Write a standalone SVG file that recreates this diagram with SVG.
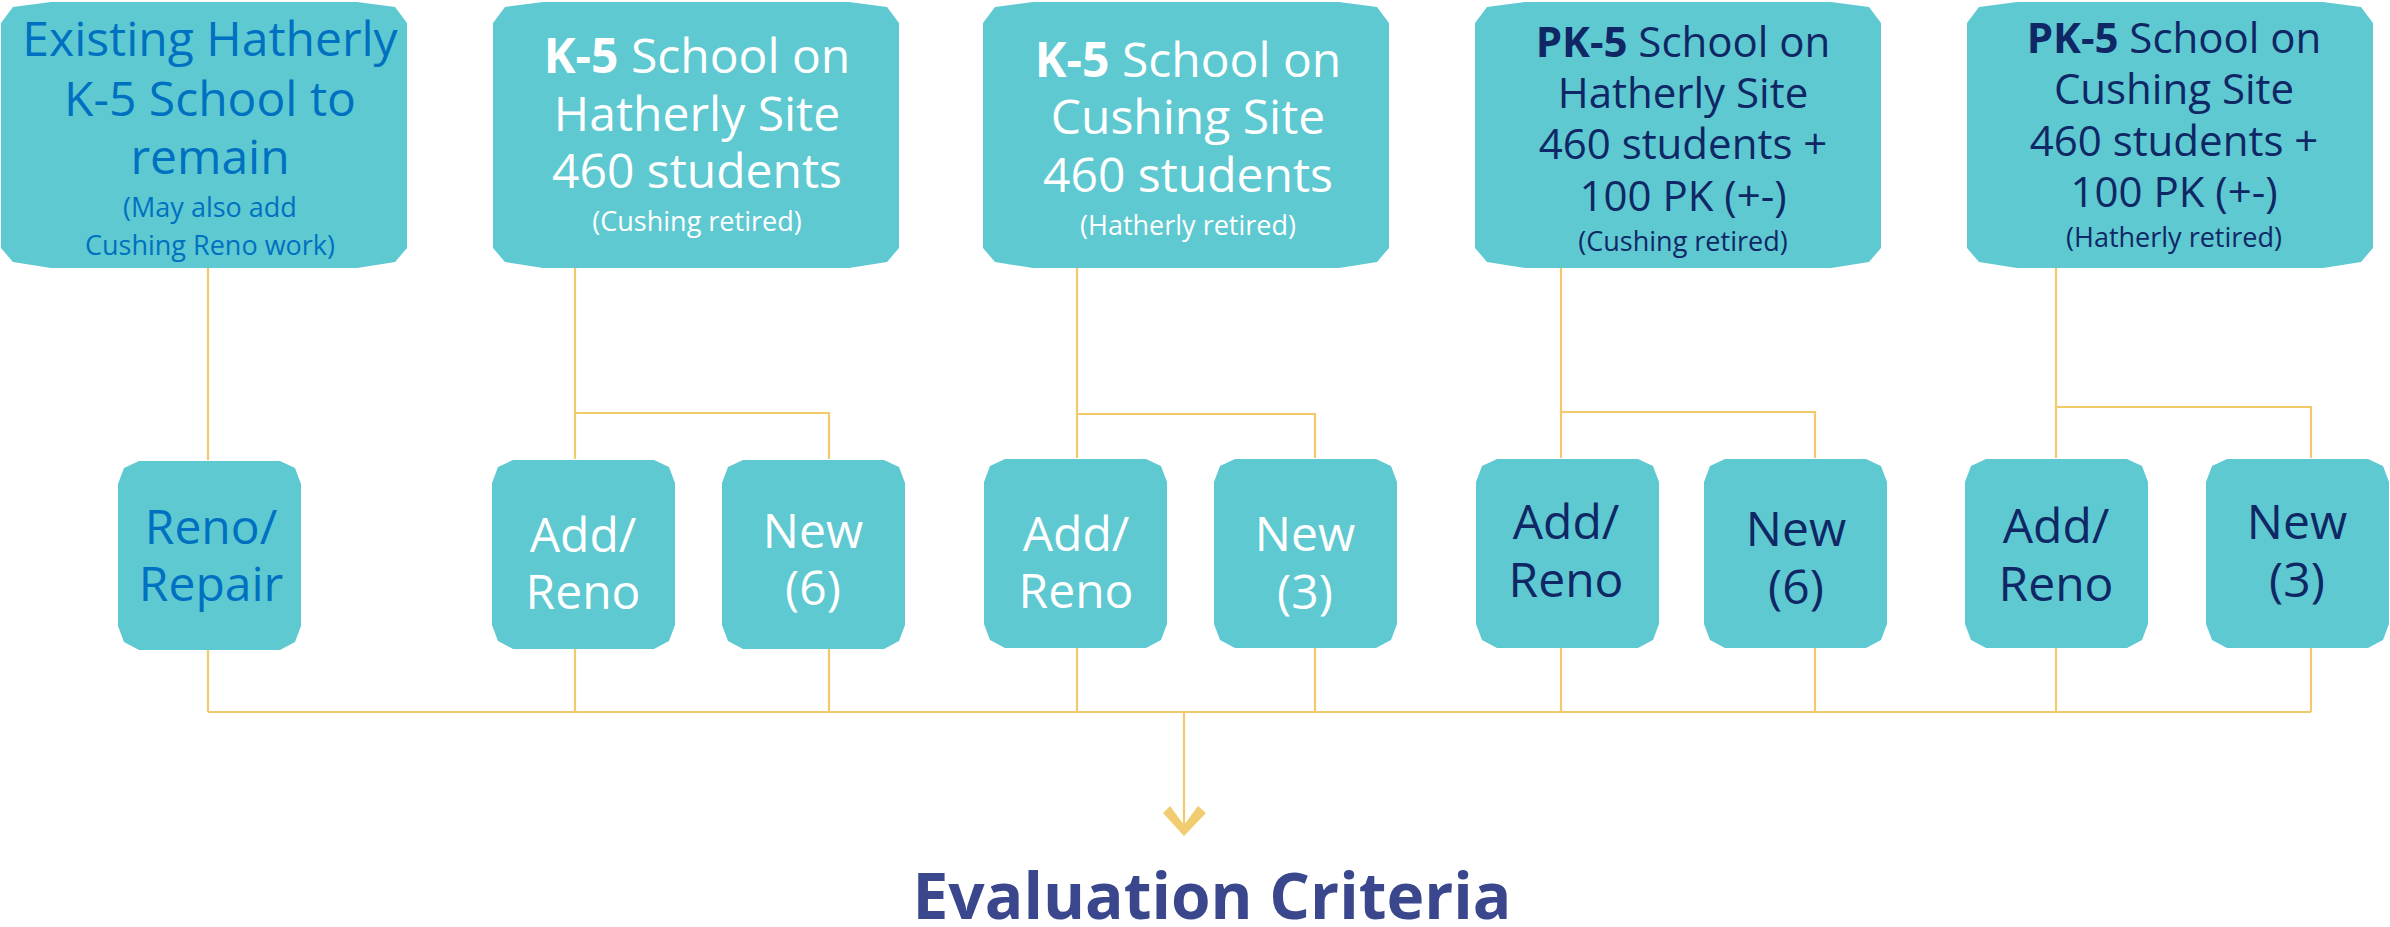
<svg xmlns="http://www.w3.org/2000/svg" width="2390" height="927" viewBox="0 0 2390 927">
<style>
.box{fill:#5EC9D1;}
.t{font-family:"Open Sans","Noto Sans",sans-serif;text-anchor:middle;}
.big{font-size:48px;}
.mid{font-size:42px;}
.sm{font-size:27px;}
.blue{fill:#0070C0;}
.white{fill:#FFFFFF;}
.navy{fill:#0F2765;}
.b{font-weight:bold;}
.ln{stroke:#F3CA6B;stroke-width:2.2;fill:none;}
</style>
<defs>
<path id="topbox" d="M0,22 L12,6 L50,1 L356,1 L394,6 L406,22 L406,247 L394,261 L356,267 L50,267 L12,261 L0,247 Z"/>
<path id="botbox" d="M0,24 L6,8 L21,1 L162,1 L177,8 L183,24 L183,166 L177,182 L162,190 L21,190 L6,182 L0,166 Z"/>
</defs>
<g id="connectors">
<path class="ln" d="M208,268 V460 M208,650 V712 M208,712 H2311"/>
<path class="ln" d="M575,268 V459 M575,413 H829 V459 M575,648 V712 M829,648 V712"/>
<path class="ln" d="M1077,268 V458 M1077,414 H1315 V458 M1077,647 V712 M1315,647 V712"/>
<path class="ln" d="M1561,268 V458 M1561,412 H1815 V458 M1561,647 V712 M1815,647 V712"/>
<path class="ln" d="M2056,268 V458 M2056,407 H2311 V458 M2056,647 V712 M2311,647 V712"/>
<path class="ln" d="M1184,712 V826"/>
<polygon points="1163,813 1170,806 1184,825 1198,806 1206,813 1184,836" fill="#F2CC70"/>
</g>
<g id="top1">
<use href="#topbox" class="box" x="1" y="1"/>
<text class="t big blue" x="210" y="56">Existing Hatherly</text>
<text class="t big blue" x="210" y="116">K-5 School to</text>
<text class="t big blue" x="210" y="174">remain</text>
<text class="t sm blue" x="210" y="217">(May also add</text>
<text class="t sm blue" x="210" y="255">Cushing Reno work)</text>
</g>
<g id="top2">
<use href="#topbox" class="box" x="493" y="1"/>
<text class="t big white" x="697" y="73"><tspan class="b">K-5</tspan> School on</text>
<text class="t big white" x="697" y="131">Hatherly Site</text>
<text class="t big white" x="697" y="188">460 students</text>
<text class="t sm white" x="697" y="231">(Cushing retired)</text>
</g>
<g id="top3">
<use href="#topbox" class="box" x="983" y="1"/>
<text class="t big white" x="1188" y="77"><tspan class="b">K-5</tspan> School on</text>
<text class="t big white" x="1188" y="134">Cushing Site</text>
<text class="t big white" x="1188" y="192">460 students</text>
<text class="t sm white" x="1188" y="235">(Hatherly retired)</text>
</g>
<g id="top4">
<use href="#topbox" class="box" x="1475" y="1"/>
<text class="t mid navy" x="1683" y="57"><tspan class="b">PK-5</tspan> School on</text>
<text class="t mid navy" x="1683" y="108">Hatherly Site</text>
<text class="t mid navy" x="1683" y="159">460 students +</text>
<text class="t mid navy" x="1683" y="211">100 PK (+-)</text>
<text class="t sm navy" x="1683" y="251">(Cushing retired)</text>
</g>
<g id="top5">
<use href="#topbox" class="box" x="1967" y="1"/>
<text class="t mid navy" x="2174" y="53"><tspan class="b">PK-5</tspan> School on</text>
<text class="t mid navy" x="2174" y="104">Cushing Site</text>
<text class="t mid navy" x="2174" y="156">460 students +</text>
<text class="t mid navy" x="2174" y="207">100 PK (+-)</text>
<text class="t sm navy" x="2174" y="247">(Hatherly retired)</text>
</g>
<g id="reno-repair">
<use href="#botbox" class="box" x="118" y="460"/>
<text class="t big blue" x="211" y="544">Reno/</text>
<text class="t big blue" x="211" y="601">Repair</text>
</g>
<g id="add-reno-1">
<use href="#botbox" class="box" x="492" y="459"/>
<text class="t big white" x="583" y="552">Add/</text>
<text class="t big white" x="583" y="609">Reno</text>
</g>
<g id="new-6-1">
<use href="#botbox" class="box" x="722" y="459"/>
<text class="t big white" x="813" y="548">New</text>
<text class="t big white" x="813" y="605">(6)</text>
</g>
<g id="add-reno-2">
<use href="#botbox" class="box" x="984" y="458"/>
<text class="t big white" x="1076" y="551">Add/</text>
<text class="t big white" x="1076" y="608">Reno</text>
</g>
<g id="new-3-1">
<use href="#botbox" class="box" x="1214" y="458"/>
<text class="t big white" x="1305" y="551">New</text>
<text class="t big white" x="1305" y="609">(3)</text>
</g>
<g id="add-reno-3">
<use href="#botbox" class="box" x="1476" y="458"/>
<text class="t big navy" x="1566" y="539">Add/</text>
<text class="t big navy" x="1566" y="597">Reno</text>
</g>
<g id="new-6-2">
<use href="#botbox" class="box" x="1704" y="458"/>
<text class="t big navy" x="1796" y="546">New</text>
<text class="t big navy" x="1796" y="604">(6)</text>
</g>
<g id="add-reno-4">
<use href="#botbox" class="box" x="1965" y="458"/>
<text class="t big navy" x="2056" y="543">Add/</text>
<text class="t big navy" x="2056" y="601">Reno</text>
</g>
<g id="new-3-2">
<use href="#botbox" class="box" x="2206" y="458"/>
<text class="t big navy" x="2297" y="539">New</text>
<text class="t big navy" x="2297" y="597">(3)</text>
</g>
<g id="evaluation">
<text class="t b" x="1212" y="919" font-size="64" fill="#3B478C">Evaluation Criteria</text>
</g>
</svg>
